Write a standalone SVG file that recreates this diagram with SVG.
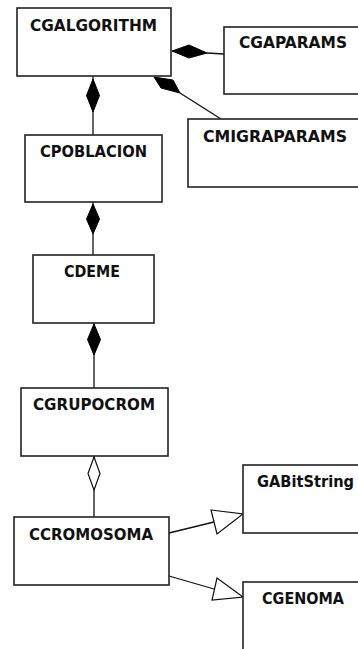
<svg xmlns="http://www.w3.org/2000/svg" width="358" height="649" viewBox="0 0 358 649">
<style>
.box{fill:#fff;stroke:#222;stroke-width:1.6}
.lbl{font-family:"DejaVu Sans",sans-serif;font-weight:bold;font-size:15.5px;fill:#111}
.ln{stroke:#111;stroke-width:1.3;fill:none}
.fd{fill:#000;stroke:#000;stroke-width:1}
.hd{fill:#fff;stroke:#111;stroke-width:1.2}
</style>
<rect width="358" height="649" fill="#fff"/>
<g id="connectors">
  <line class="ln" x1="93" y1="76" x2="93" y2="135"/>
  <polygon class="fd" points="93,79 99.5,95.5 93,112 86.5,95.5"/>
  <line class="ln" x1="93" y1="202" x2="93" y2="255"/>
  <polygon class="fd" points="93,204 99.5,219 93,234 86.5,219"/>
  <line class="ln" x1="94" y1="323" x2="94" y2="388"/>
  <polygon class="fd" points="94,324 100.5,339.5 94,355 87.5,339.5"/>
  <line class="ln" x1="94" y1="456" x2="94" y2="517"/>
  <polygon class="hd" points="94,457 100,473.5 94,490 88,473.5"/>
  <line class="ln" x1="207" y1="53" x2="224" y2="54"/>
  <polygon class="fd" points="172,51 189,45 207,53 189,58"/>
  <line class="ln" x1="180" y1="93" x2="221" y2="119"/>
  <polygon class="fd" points="154,77 173,80 180,93 161,88"/>
  <line class="ln" x1="169" y1="533" x2="214" y2="522"/>
  <polygon class="hd" points="211,510 243,514 217,534"/>
  <line class="ln" x1="169" y1="576" x2="214" y2="589"/>
  <polygon class="hd" points="217,578 243,597 212,600"/>
</g>
<g id="CGALGORITHM"><rect class="box" x="17" y="8" width="154" height="68"/><text class="lbl" x="30" y="31" textLength="127" lengthAdjust="spacingAndGlyphs">CGALGORITHM</text></g>
<g id="CGAPARAMS"><rect class="box" x="224" y="27" width="140" height="67"/><text class="lbl" x="239" y="48" textLength="108" lengthAdjust="spacingAndGlyphs">CGAPARAMS</text></g>
<g id="CMIGRAPARAMS"><rect class="box" x="188" y="119" width="176" height="68"/><text class="lbl" x="203" y="142" textLength="144" lengthAdjust="spacingAndGlyphs">CMIGRAPARAMS</text></g>
<g id="CPOBLACION"><rect class="box" x="25" y="135" width="137" height="67"/><text class="lbl" x="40" y="157" textLength="107" lengthAdjust="spacingAndGlyphs">CPOBLACION</text></g>
<g id="CDEME"><rect class="box" x="33" y="255" width="121" height="68"/><text class="lbl" x="64" y="277" textLength="56" lengthAdjust="spacingAndGlyphs">CDEME</text></g>
<g id="CGRUPOCROM"><rect class="box" x="21" y="388" width="147" height="68"/><text class="lbl" x="33" y="410" textLength="122" lengthAdjust="spacingAndGlyphs">CGRUPOCROM</text></g>
<g id="CCROMOSOMA"><rect class="box" x="14" y="517" width="155" height="68"/><text class="lbl" x="29" y="540" textLength="124" lengthAdjust="spacingAndGlyphs">CCROMOSOMA</text></g>
<g id="GABitString"><rect class="box" x="243" y="465" width="121" height="68"/><text class="lbl" x="257" y="487" textLength="97" lengthAdjust="spacingAndGlyphs">GABitString</text></g>
<g id="CGENOMA"><rect class="box" x="243" y="582" width="121" height="80"/><text class="lbl" x="262" y="604" textLength="82" lengthAdjust="spacingAndGlyphs">CGENOMA</text></g>
</svg>
